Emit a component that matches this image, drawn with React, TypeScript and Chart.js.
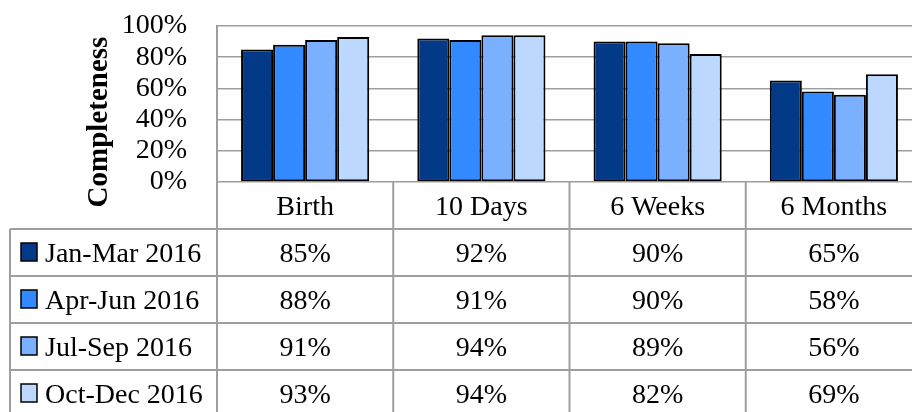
import React, { useEffect, useRef } from "react";
import { Chart, registerables } from "chart.js";

Chart.register(...registerables);

const categories = ["Birth", "10 Days", "6 Weeks", "6 Months"];
const seriesNames = ["Jan-Mar 2016", "Apr-Jun 2016", "Jul-Sep 2016", "Oct-Dec 2016"];
const janMar2016 = [85, 92, 90, 65];
const aprJun2016 = [88, 91, 90, 58];
const julSep2016 = [91, 94, 89, 56];
const octDec2016 = [93, 94, 82, 69];
const seriesValues = [janMar2016, aprJun2016, julSep2016, octDec2016];
const seriesColors = ["#033a87", "#3389ff", "#7ab0ff", "#bcd8ff"];
const yAxisTitle = "Completeness";
const yMin = 0;
const yMax = 100;
const yStep = 20;

const FONT_FAMILY = "'Liberation Serif', serif";
const FONT_SIZE = 28;
const GRID = "#9e9e9e";

const tablePlugin = {
  id: "dataTable",
  afterDraw(chart: any) {
    const { ctx, chartArea, scales } = chart;
    const xs = scales.x;
    const n = categories.length;
    const catW = (chartArea.right - chartArea.left) / n;
    const top = chartArea.bottom;
    const rowH = 47;
    const H = chart.height;
    const legendLeft = 10;

    const line = (x1: number, y1: number, x2: number, y2: number) => {
      ctx.beginPath();
      ctx.moveTo(x1, y1);
      ctx.lineTo(x2, y2);
      ctx.stroke();
    };

    ctx.save();
    ctx.strokeStyle = GRID;
    ctx.lineWidth = 2;
    for (let i = 0; i <= n; i++) {
      const xx = chartArea.left + i * catW;
      line(xx, top, xx, H);
    }
    line(legendLeft, top + rowH, legendLeft, H);
    for (let r = 1; r <= seriesNames.length; r++) {
      const y = top + r * rowH;
      line(legendLeft, y, chart.width, y);
    }

    ctx.fillStyle = "#000";
    ctx.font = `${FONT_SIZE}px ${FONT_FAMILY}`;
    ctx.textAlign = "center";
    ctx.textBaseline = "alphabetic";
    categories.forEach((c, i) => {
      ctx.fillText(c, xs.getPixelForValue(i), top + 33);
    });

    chart.data.datasets.forEach((ds: any, r: number) => {
      const rowTop = top + (r + 1) * rowH;
      ctx.textAlign = "center";
      ctx.fillStyle = "#000";
      ds.data.forEach((v: number, i: number) => {
        ctx.fillText(`${v}%`, xs.getPixelForValue(i), rowTop + 33);
      });
      // legend marker
      ctx.fillStyle = ds.backgroundColor;
      ctx.fillRect(21, rowTop + 14, 16, 18);
      ctx.strokeStyle = "#000";
      ctx.lineWidth = 1.5;
      ctx.strokeRect(21, rowTop + 14, 16, 18);
      ctx.fillStyle = "#000";
      ctx.textAlign = "left";
      ctx.fillText(ds.label, 45, rowTop + 33);
    });

    // y axis title
    ctx.save();
    ctx.translate(107, 122);
    ctx.rotate(-Math.PI / 2);
    ctx.font = `bold ${FONT_SIZE + 1}px ${FONT_FAMILY}`;
    ctx.textAlign = "center";
    ctx.textBaseline = "alphabetic";
    ctx.fillStyle = "#000";
    ctx.fillText(yAxisTitle, 0, 0);
    ctx.restore();

    ctx.restore();
  },
};

export default function App() {
  const canvasRef = useRef<HTMLCanvasElement | null>(null);

  useEffect(() => {
    const canvas = canvasRef.current;
    if (!canvas) return;
    const chart = new Chart(canvas, {
      type: "bar",
      data: {
        labels: categories,
        datasets: seriesNames.map((name, i) => ({
          label: name,
          data: seriesValues[i],
          backgroundColor: seriesColors[i],
          borderColor: "#000",
          borderWidth: 2,
          borderSkipped: false,
          categoryPercentage: 0.727,
          barPercentage: 1,
        })),
      },
      options: {
        responsive: false,
        animation: false,
        devicePixelRatio: 1,
        layout: { padding: { left: 0, top: 26, right: 2, bottom: 230 } },
        plugins: {
          legend: { display: false },
          tooltip: { enabled: false },
        },
        scales: {
          x: {
            type: "category",
            display: false,
            offset: true,
            grid: { display: false },
          },
          y: {
            min: yMin,
            max: yMax,
            afterFit: (scale: any) => {
              scale.width = 217;
            },
            ticks: {
              stepSize: yStep,
              padding: 0,
              autoSkip: false,
              color: "#000",
              font: { family: FONT_FAMILY, size: FONT_SIZE },
              callback: (v: any) => `${v}%`,
            },
            grid: {
              color: GRID,
              lineWidth: 1.5,
              drawTicks: true,
              tickLength: 30,
              tickColor: "rgba(0,0,0,0)",
            },
            border: { display: true, color: GRID, width: 2 },
          },
        },
      },
      plugins: [tablePlugin],
    });
    return () => chart.destroy();
  }, []);

  return (
    <div
      style={{
        position: "fixed",
        left: 0,
        top: 0,
        width: 912,
        height: 412,
        overflow: "hidden",
        background: "#fff",
      }}
    >
      <canvas ref={canvasRef} width={924} height={412} style={{ display: "block" }} />
    </div>
  );
}
